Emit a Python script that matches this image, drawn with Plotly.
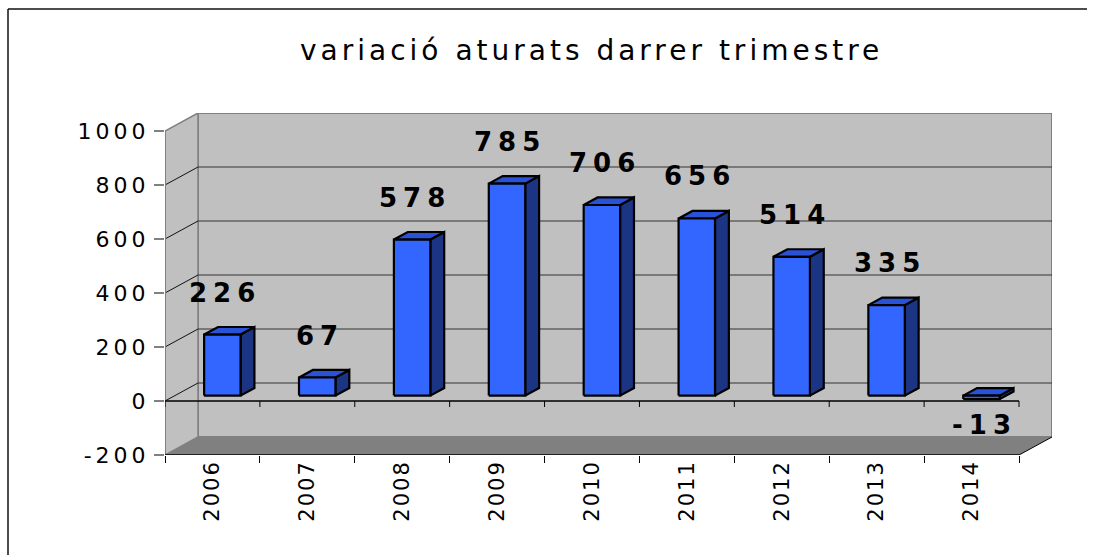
import plotly.graph_objects as go

# ---------------- data ----------------
years = ["2006", "2007", "2008", "2009", "2010", "2011", "2012", "2013", "2014"]
values = [226, 67, 578, 785, 706, 656, 514, 335, -13]
y_ticks = [-200, 0, 200, 400, 600, 800, 1000]
title_text = "variació aturats darrer trimestre"

# ---------------- geometry / style ----------------
W, H = 1098, 555
ML, MR, MT, MB = 165, 46, 113, 100
plot_w = W - ML - MR
plot_h = H - MT - MB
n = len(years)
y_lo, y_top = y_ticks[0], y_ticks[-1]

DEPTH_X_RATIO = 33 / 94.9          # depth offset in category units
DEPTH_Y_PX = 18                    # depth offset in pixels (vertical)
dxw = DEPTH_X_RATIO
dyw = DEPTH_Y_PX * (y_top - y_lo) / (plot_h - DEPTH_Y_PX)   # in value units
x_lo = -0.5
x_front_hi = n - 0.5
x_hi = x_front_hi + dxw
y_hi = y_top + dyw
upp = (y_hi - y_lo) / plot_h       # value units per pixel

BAR_W = 0.384
T_FRONT = 0.30
T_DEPTH = 0.42

FONT = "DejaVu Sans"
C_FRONT = "#3366FF"
C_TOP = "#2A52D6"
C_SIDE = "#1B3584"
C_WALL = "#C0C0C0"
C_FLOOR = "#808080"


def px_to_paper_x(px):
    return (px - ML) / plot_w


def px_to_paper_y(py):
    return (H - MB - py) / plot_h


def spaced(txt, ls):
    return f'<span style="letter-spacing:{ls}px">{txt}</span>'


def path(pts):
    return "M " + " L ".join(f"{x},{y}" for x, y in pts) + " Z"


shapes = []
# back wall
shapes.append(dict(type="rect", xref="x", yref="y", layer="below",
                   x0=x_lo + dxw, x1=x_hi, y0=y_lo + dyw, y1=y_hi,
                   fillcolor=C_WALL, line=dict(color="#808080", width=2)))
# left wall
shapes.append(dict(type="path", xref="x", yref="y", layer="below",
                   path=path([(x_lo, y_lo), (x_lo, y_top), (x_lo + dxw, y_hi), (x_lo + dxw, y_lo + dyw)]),
                   fillcolor=C_WALL, line=dict(color="#808080", width=1.5)))
# floor
shapes.append(dict(type="path", xref="x", yref="y", layer="below",
                   path=path([(x_lo, y_lo), (x_front_hi, y_lo), (x_hi, y_lo + dyw), (x_lo + dxw, y_lo + dyw)]),
                   fillcolor=C_FLOOR, line=dict(width=0)))
# gridlines back wall + left wall diagonals
for v in y_ticks[1:-1]:
    shapes.append(dict(type="line", xref="x", yref="y", layer="below",
                       x0=x_lo + dxw, x1=x_hi, y0=v + dyw, y1=v + dyw,
                       line=dict(color="#333333", width=1)))
    shapes.append(dict(type="line", xref="x", yref="y", layer="below",
                       x0=x_lo, x1=x_lo + dxw, y0=v, y1=v + dyw,
                       line=dict(color="#111111", width=1)))
# front value axis line
shapes.append(dict(type="line", xref="x", yref="y", layer="below",
                   x0=x_lo, x1=x_lo, y0=y_lo, y1=y_top,
                   line=dict(color="#808080", width=2)))
# category axis at 0 and front floor edge
for v in (0, y_lo):
    shapes.append(dict(type="line", xref="x", yref="y", layer="below",
                       x0=x_lo, x1=x_front_hi, y0=v, y1=v,
                       line=dict(color="#000000", width=1.5)))
shapes.append(dict(type="line", xref="x", yref="y", layer="below",
                   x0=x_front_hi, x1=x_hi, y0=y_lo, y1=y_lo + dyw,
                   line=dict(color="#000000", width=1)))
# ticks under category axis at 0
for b in range(n + 1):
    xb = x_lo + b
    shapes.append(dict(type="line", xref="x", yref="y", layer="below",
                       x0=xb, x1=xb, y0=0, y1=-6 * upp,
                       line=dict(color="#000000", width=1)))
# outer frame (top + left)
shapes.append(dict(type="line", xref="paper", yref="paper",
                   x0=px_to_paper_x(8), x1=px_to_paper_x(1087), y0=px_to_paper_y(9), y1=px_to_paper_y(9),
                   line=dict(color="#111111", width=1.5)))
shapes.append(dict(type="line", xref="paper", yref="paper",
                   x0=px_to_paper_x(8), x1=px_to_paper_x(8), y0=px_to_paper_y(9), y1=px_to_paper_y(H),
                   line=dict(color="#111111", width=1.5)))

# ---------------- bars ----------------
fx, fy, sx_, sy_, tx, ty = [], [], [], [], [], []
sx = T_FRONT * dxw
sy = T_FRONT * dyw
ddx = T_DEPTH * dxw
ddy = T_DEPTH * dyw
for i, v in enumerate(values):
    xl = i - BAR_W / 2 + sx
    xr = i + BAR_W / 2 + sx
    lo = min(0, v) + sy
    hi = max(0, v) + sy
    fx += [xl, xr, xr, xl, xl, None]
    fy += [lo, lo, hi, hi, lo, None]
    sx_ += [xr, xr + ddx, xr + ddx, xr, xr, None]
    sy_ += [lo, lo + ddy, hi + ddy, hi, lo, None]
    tx += [xl, xr, xr + ddx, xl + ddx, xl, None]
    ty += [hi, hi, hi + ddy, hi + ddy, hi, None]

fig = go.Figure()
for xs, ys, col in ((sx_, sy_, C_SIDE), (tx, ty, C_TOP), (fx, fy, C_FRONT)):
    fig.add_trace(go.Scatter(x=xs, y=ys, mode="lines", fill="toself", fillcolor=col,
                             line=dict(color="#000000", width=2.2), hoverinfo="skip",
                             showlegend=False))

annotations = []
for i, v in enumerate(values):
    annotations.append(dict(
        x=i + sx, y=v + sy, xref="x", yref="y",
        text=spaced(str(v), 6), showarrow=False,
        xanchor="center", yanchor="middle",
        xshift=3, yshift=42 if v >= 0 else -26,
        font=dict(family=FONT, size=26, color="#000000", weight="bold")))
annotations.append(dict(
    x=px_to_paper_x(591), y=px_to_paper_y(51), xref="paper", yref="paper",
    text=spaced(title_text, 4), showarrow=False, xanchor="center", yanchor="middle",
    font=dict(family=FONT, size=28, color="#000000")))

fig.update_layout(
    width=W, height=H,
    margin=dict(l=ML, r=MR, t=MT, b=MB, pad=0),
    paper_bgcolor="white", plot_bgcolor="white",
    showlegend=False,
    shapes=shapes, annotations=annotations,
    xaxis=dict(range=[x_lo, x_hi], tickmode="array", tickvals=list(range(n)),
               ticktext=[spaced(y, 2) for y in years], tickangle=-90,
               ticks="", showgrid=False, zeroline=False, showline=False,
               tickfont=dict(family=FONT, size=21, color="#000000"),
               minor=dict(ticks="outside", tick0=x_lo, dtick=1, ticklen=7,
                          tickcolor="#000000", tickwidth=1, showgrid=False),
               fixedrange=True),
    yaxis=dict(range=[y_lo, y_hi], tickmode="array", tickvals=y_ticks,
               ticktext=[spaced(t, 4) for t in y_ticks],
               ticks="outside", ticklen=10, tickcolor="#808080", tickwidth=1.5,
               showgrid=False, zeroline=False, showline=False,
               tickfont=dict(family=FONT, size=22, color="#000000"),
               fixedrange=True),
)

fig.write_html("out.html", config={"displayModeBar": False},
               post_script="document.body.style.margin='0';document.body.style.overflow='hidden';"
                           "document.documentElement.style.overflow='hidden';")
